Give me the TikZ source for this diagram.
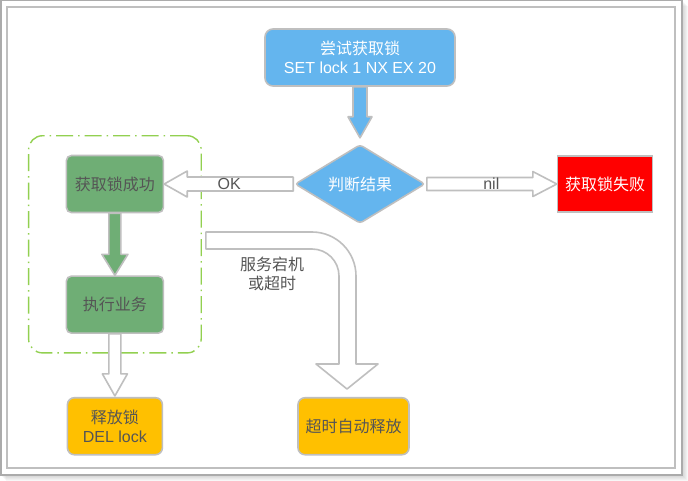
\documentclass[tikz,border=0pt]{standalone}
\usepackage{fontspec}
\setmainfont{Liberation Sans}
\newfontfamily\cjk{Noto Sans CJK SC}
\usetikzlibrary{positioning,shapes.geometric,fit,calc}

\definecolor{skyblue}{HTML}{64B5EE}
\definecolor{leafgreen}{HTML}{6FAE75}
\definecolor{amber}{HTML}{FFC000}
\definecolor{limegreen}{HTML}{92D050}
\definecolor{edgegray}{HTML}{BFBFBF}
\definecolor{txtgray}{HTML}{555555}

% fat arrow: [style]{from}{to}{half shaft}{half head}{head length}
\newcommand{\fatarrow}[6][]{%
  \path (#2) coordinate (fa-s) (#3) coordinate (fa-e) ($(fa-e)!#6!(fa-s)$) coordinate (fa-b);
  \draw[#1] ($(fa-s)!#4!90:(fa-e)$) -- ($(fa-b)!#4!90:(fa-e)$) -- ($(fa-b)!#5!90:(fa-e)$) -- (fa-e)
    -- ($(fa-b)!#5!-90:(fa-e)$) -- ($(fa-b)!#4!-90:(fa-e)$) -- ($(fa-s)!#4!-90:(fa-e)$) -- cycle;}

\begin{document}
\begin{tikzpicture}[
  x=1pt, y=1pt,
  font=\fontsize{16}{19}\selectfont,
  box/.style={draw=edgegray, line width=1.6pt, align=center, inner sep=3pt, text=txtgray},
  bluebox/.style={box, fill=skyblue, text=white, rounded corners=8pt,
    minimum width=190pt, minimum height=57pt},
  decide/.style={box, diamond, fill=skyblue, text=white, rounded corners=3pt,
    minimum width=130pt, minimum height=75pt, inner sep=0pt},
  redbox/.style={box, fill=red, text=white, minimum width=95pt, minimum height=56pt},
  greenbox/.style={box, fill=leafgreen, rounded corners=5pt, minimum width=97pt, minimum height=57pt},
  ambox/.style={box, fill=amber, rounded corners=7pt, minimum height=57pt},
  lbl/.style={text=txtgray, align=center},
  bluearrow/.style={draw=edgegray, line width=1.6pt, fill=skyblue, line join=round},
  greenarrow/.style={bluearrow, fill=leafgreen},
  hollowarrow/.style={bluearrow, fill=white},
  group/.style={draw=limegreen, line width=1.4pt, rounded corners=14pt,
    dash pattern=on 17pt off 5pt on 1.5pt off 5pt}
]

% ---------- frame ----------
\foreach \s in {1,...,6}
  \fill[black, opacity=0.03] (\s,-\s) rectangle (682+\s,-475-\s);
\draw[line width=1.5pt, draw=black!33, fill=white] (0.75,-0.75) rectangle (682,-475);
\draw[line width=1.2pt, draw=black!25] (7,-7) rectangle (675,-468);
\useasboundingbox (0,0) rectangle (688,-481);

% ---------- nodes ----------
\node[bluebox] (try) at (360,-57.5) {{\cjk 尝试获取锁}\\SET lock 1 NX EX 20};
\node[decide, below=57pt of try] (judge) {\cjk 判断结果};
\node[redbox, right=131pt of judge] (fail) {\cjk 获取锁失败};
\node[greenbox, left=130pt of judge] (succ) {\cjk 获取锁成功};
\node[greenbox, below=62pt of succ] (exec) {\cjk 执行业务};
\node[ambox, minimum width=95pt, below=63pt of exec] (release) {{\cjk 释放锁}\\DEL lock};
\node[ambox, minimum width=111pt, right=134pt of release] (timeout) {\cjk 超时自动释放};

\node[group, fit=(succ)(exec), inner xsep=37pt, inner ysep=19pt] (core) {};

% ---------- arrows ----------
\fatarrow[bluearrow]{try.south}{$(judge.north)+(0,6)$}{7pt}{12pt}{21pt}
\fatarrow[hollowarrow]{$(judge.west)+(-1,0)$}{succ.east}{7pt}{13pt}{23pt}
\fatarrow[hollowarrow]{$(judge.east)+(1,0)$}{fail.west}{6.5pt}{12.5pt}{24pt}
\fatarrow[greenarrow]{succ.south}{exec.north}{6pt}{13pt}{21pt}
\fatarrow[hollowarrow]{exec.south}{$(release.north)+(0,1)$}{6pt}{12.5pt}{22pt}

\node[lbl] (ok) at ($(judge.west)!0.5!(succ.east)$) {OK};
\node[lbl] (nil) at ($(judge.east)!0.5!(fail.west)$) {nil};

% crash / timeout path
\coordinate (downstart) at ($(core.east |- 0,-240.5)+(4,0)$);
\coordinate (bendc) at (312,-276);
\draw[hollowarrow] ($(downstart)+(0,8.5)$) -- ($(bendc)+(0,44)$)
  arc[start angle=90, end angle=0, radius=44pt]
  -- ($(bendc)+(44,-88)$) -- ($(bendc)+(66,-88)$) -- ($(bendc)+(35,-113)$)
  -- ($(bendc)+(4,-88)$) -- ($(bendc)+(27,-88)$) -- ($(bendc)+(27,0)$)
  arc[start angle=0, end angle=90, radius=27pt]
  -- ($(downstart)+(0,-8.5)$) -- cycle;
\node[lbl] (downlbl) at (272,-274) {{\cjk 服务宕机}\\{\cjk 或超时}};

\end{tikzpicture}
\end{document}
